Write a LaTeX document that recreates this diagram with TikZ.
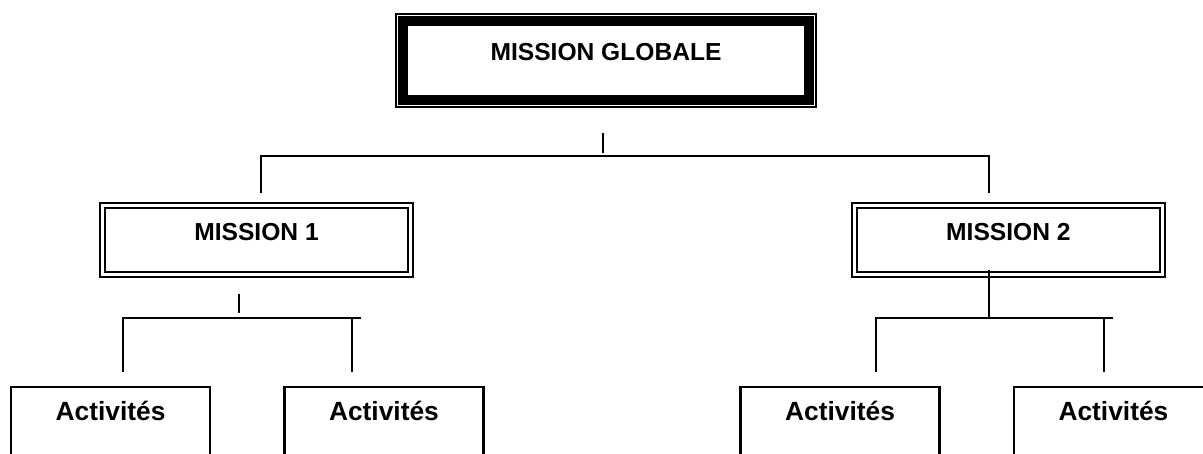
\documentclass[tikz,border=0pt]{standalone}
\usepackage{fontspec}
\setmainfont{Liberation Sans}
\usepackage{tikz}
\usetikzlibrary{positioning, fit, calc}

\begin{document}
\begin{tikzpicture}[x=0.02cm, y=-0.02cm, node distance=3cm,
    mission/.style={draw, double, line width=1.1pt, double distance=1.5pt, minimum width=6.16cm, minimum height=1.39cm, inner sep=0pt, text height=0pt, text depth=0pt, font=\bfseries\fontsize{14}{16}\selectfont},
    activite/.style={draw, line width=1.5pt, minimum width=3.98cm, inner sep=0pt, text height=0.66cm, text depth=0.94cm, font=\bfseries\fontsize{15}{17}\selectfont},
    link/.style={line width=1.6pt}]
    \useasboundingbox (0,0) rectangle (1203,453);
    \clip (0,0) rectangle (1203,453);

    % Nodes
    \node (G) at (606,60.5) [draw, line width=0.19cm, minimum width=8.12cm, minimum height=1.58cm, inner sep=0pt, text height=0pt, text depth=0pt, font=\bfseries\fontsize{14}{16}\selectfont] {MISSION GLOBALE};
    \node (Gcadre) [draw, line width=0.9pt, fit=(G), inner sep=0.045cm] {};
    \node (M1) at (256.5,240) [mission] {MISSION 1};
    \node (M2) [right of=M1, xshift=12.04cm, mission] {MISSION 2};
    \node (A1) at (110.5,427) [activite] {Activités};
    \node (A2) [right of=A1, xshift=2.47cm, activite] {Activités};
    \node (A3) at (840,427) [activite] {Activités};
    \node (A4) [right of=A3, xshift=2.47cm, activite] {Activités};

    % Branch points
    \coordinate (gs) at (603,133);
    \coordinate (gj) at (603,156);
    \coordinate (m1t) at (261,193);
    \coordinate (m2t) at (989,193);
    \coordinate (m1s) at (239,294);
    \coordinate (m1j) at (361,318);
    \coordinate (m2j) at (1113,318);
    \coordinate (a1t) at (123,372);
    \coordinate (a2t) at (352,372);
    \coordinate (a3t) at (876,372);
    \coordinate (a4t) at (1104,372);

    % Lines
    \draw[link] (gs) -- ++(0,20);
    \draw[link] (m1t) |- (gj) -| (m2t);
    \draw[link] (m1s) -- ++(0,19);
    \draw[link] (a1t) |- (m1j);
    \draw[link] (a2t) -- (a2t |- m1j);
    \draw[link] ($(M2.south -| m2t)+(0,-6)$) -- (m2t |- m2j);
    \draw[link] (a3t) |- (m2j);
    \draw[link] (a4t) -- (a4t |- m2j);
\end{tikzpicture}
\end{document}
